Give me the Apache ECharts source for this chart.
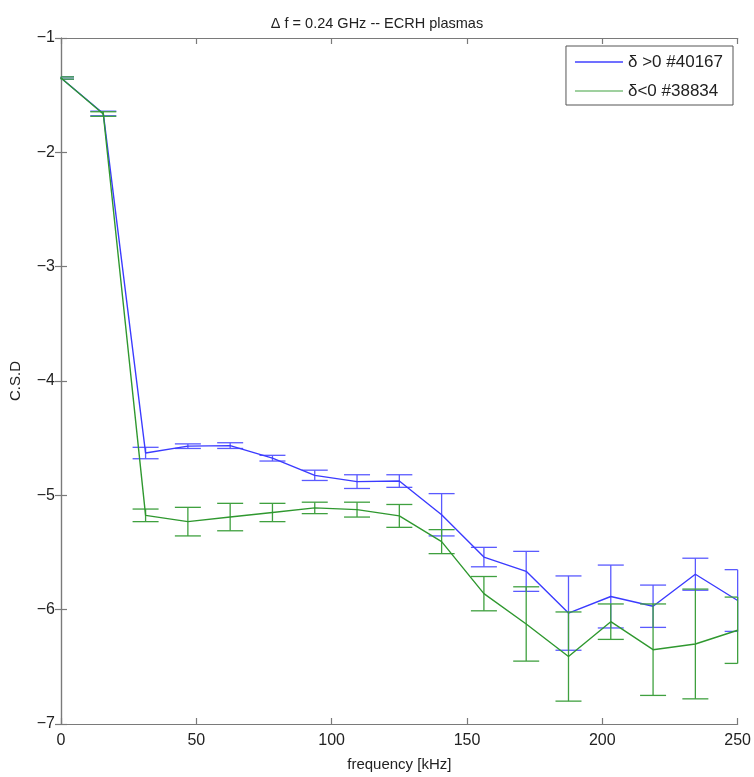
<!DOCTYPE html>
<html>
<head>
<meta charset="utf-8">
<script src="https://cdn.jsdelivr.net/npm/echarts@6/dist/echarts.min.js"></script>
<style>
html,body{margin:0;padding:0;background:#fff;}
#chart{width:754px;height:777px;}
</style>
</head>
<body>
<div id="chart"></div>
<script>
// ---- data ----
const freq = [0, 15.625, 31.25, 46.875, 62.5, 78.125, 93.75, 109.375, 125, 140.625, 156.25, 171.875, 187.5, 203.125, 218.75, 234.375, 250];
const posName = 'δ >0 #40167';
const posVal = [-1.35, -1.66, -4.63, -4.57, -4.565, -4.675, -4.825, -4.88, -4.875, -5.17, -5.54, -5.665, -6.03, -5.885, -5.97, -5.69, -5.92];
const posErr = [0.01, 0.02, 0.05, 0.02, 0.025, 0.025, 0.045, 0.06, 0.055, 0.185, 0.085, 0.175, 0.325, 0.275, 0.185, 0.14, 0.27];
const negName = 'δ<0 #38834';
const negVal = [-1.35, -1.665, -5.175, -5.23, -5.19, -5.15, -5.11, -5.125, -5.18, -5.405, -5.86, -6.125, -6.41, -6.105, -6.35, -6.30, -6.18];
const negErr = [0.01, 0.02, 0.055, 0.125, 0.12, 0.08, 0.05, 0.065, 0.10, 0.105, 0.15, 0.325, 0.39, 0.155, 0.40, 0.48, 0.29];
const xTicks = [0, 50, 100, 150, 200, 250];
const yTicks = [-7, -6, -5, -4, -3, -2, -1];

const BLUE = '#3b3bff';
const GREEN = '#2f982f';
const FONT = 'Liberation Sans, Arial, sans-serif';

function lineData(vals){ return freq.map((f,i)=>[f, vals[i]]); }
function errData(vals, errs){ return freq.map((f,i)=>[f, vals[i]-errs[i], vals[i]+errs[i]]); }

function errRender(color){
  return function(params, api){
    const cs = params.coordSys;
    const x = api.value(0);
    const lo = api.coord([x, api.value(1)]);
    const hi = api.coord([x, api.value(2)]);
    const hw = 13;
    const x0 = Math.max(cs.x, lo[0]-hw), x1 = Math.min(cs.x+cs.width, lo[0]+hw);
    const st = {stroke: color, lineWidth: 1.3};
    return {type:'group', children:[
      {type:'line', shape:{x1:lo[0], y1:lo[1], x2:hi[0], y2:hi[1]}, style:st},
      {type:'line', shape:{x1:x0, y1:lo[1], x2:x1, y2:lo[1]}, style:st},
      {type:'line', shape:{x1:x0, y1:hi[1], x2:x1, y2:hi[1]}, style:st}
    ]};
  };
}

const axisLineStyle = {color:'#7a7a7a', width:1.2};
const chart = echarts.init(document.getElementById('chart'));
chart.setOption({
  animation:false,
  backgroundColor:'#fff',
  title:{
    text:'Δ f = 0.24 GHz -- ECRH plasmas',
    left:'center', top:11,
    textStyle:{fontFamily:FONT, fontSize:14.5, fontWeight:'normal', color:'#222'}
  },
  legend:{
    right:21, top:46,
    orient:'vertical',
    itemWidth:48, itemHeight:2, itemGap:9,
    padding:[6,10,4,9],
    borderColor:'#555', borderWidth:1, backgroundColor:'#fff',
    icon:'rect',
    textStyle:{fontFamily:FONT, fontSize:17, lineHeight:20, color:'#222'},
    data:[
      {name:posName, itemStyle:{color:'#7070ff'}},
      {name:negName, itemStyle:{color:'#9fd09f'}}
    ]
  },
  grid:{left:60, right:15, top:38, bottom:51, containLabel:false},
  xAxis:[{
    type:'value', min:0, max:250, interval:50,
    name:'frequency [kHz]', nameLocation:'middle', nameGap:33,
    nameTextStyle:{fontFamily:FONT, fontSize:15, color:'#222'},
    axisLine:{show:true, lineStyle:axisLineStyle},
    axisTick:{show:true, inside:true, length:6, lineStyle:axisLineStyle},
    axisLabel:{fontFamily:FONT, fontSize:16, color:'#222', margin:9},
    splitLine:{show:false}
  },{
    type:'value', position:'top', min:0, max:250, interval:50,
    axisLine:{show:true, lineStyle:axisLineStyle},
    axisTick:{show:true, inside:true, length:6, lineStyle:axisLineStyle},
    axisLabel:{show:false}, splitLine:{show:false}
  }],
  yAxis:[{
    type:'value', min:-7, max:-1, interval:1,
    name:'C.S.D', nameLocation:'middle', nameGap:38, nameRotate:90,
    nameTextStyle:{fontFamily:FONT, fontSize:15, color:'#222'},
    axisLine:{show:true, lineStyle:axisLineStyle},
    axisTick:{show:true, inside:true, length:6, lineStyle:axisLineStyle},
    axisLabel:{fontFamily:FONT, fontSize:16, color:'#222', margin:6,
      formatter:v=>String(v).replace('-', '\u2212')},
    splitLine:{show:false}
  },{
    type:'value', position:'right', min:-7, max:-1, interval:1,
    axisLine:{show:true, lineStyle:axisLineStyle},
    axisTick:{show:true, inside:true, length:6, lineStyle:axisLineStyle},
    axisLabel:{show:false}, splitLine:{show:false}
  }],
  series:[
    {name:posName, type:'line', data:lineData(posVal), showSymbol:false, symbol:'none',
     lineStyle:{color:BLUE, width:1.4}, itemStyle:{color:BLUE}, z:2},
    {name:posName+' err', type:'custom', data:errData(posVal,posErr),
     renderItem:errRender('#5a5aff'), encode:{x:0, y:[1,2]}, z:2},
    {name:negName, type:'line', data:lineData(negVal), showSymbol:false, symbol:'none',
     lineStyle:{color:GREEN, width:1.4}, itemStyle:{color:GREEN}, z:3},
    {name:negName+' err', type:'custom', data:errData(negVal,negErr),
     renderItem:errRender('#3fa03f'), encode:{x:0, y:[1,2]}, z:3}
  ]
});
</script>
</body>
</html>
